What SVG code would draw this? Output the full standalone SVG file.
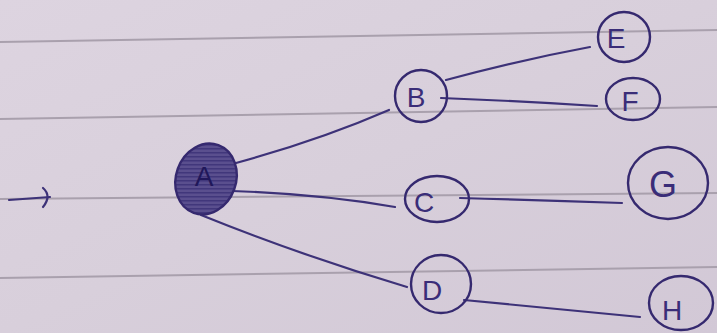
<svg xmlns="http://www.w3.org/2000/svg" width="717" height="333" viewBox="0 0 717 333">
<defs>
<linearGradient id="paper" x1="0" y1="0" x2="1" y2="1">
<stop offset="0" stop-color="#ddd4e0"/>
<stop offset="0.5" stop-color="#d8cfdb"/>
<stop offset="1" stop-color="#d2c8d6"/>
</linearGradient>
<pattern id="hatch" width="4" height="4" patternUnits="userSpaceOnUse" patternTransform="rotate(70)">
<rect width="4" height="4" fill="#5a4f8e"/>
<line x1="0" y1="0" x2="0" y2="4" stroke="#342a72" stroke-width="2"/>
</pattern>
<style>
.rule{stroke:#a9a0ad;stroke-width:2;fill:none}
.edge{stroke:#3d3278;stroke-width:2.2;fill:none;stroke-linecap:round}
.node{stroke:#35296f;stroke-width:2.4;fill:none}
.lbl{font-family:"Liberation Sans",Arial,sans-serif;font-size:28px;fill:#3a2d78;text-anchor:middle;dominant-baseline:central}
</style>
</defs>
<rect width="717" height="333" fill="url(#paper)"/>
<g id="rules">
<path class="rule" d="M0 42 L717 30"/>
<path class="rule" d="M0 119 L717 107"/>
<path class="rule" d="M0 199 L717 193"/>
<path class="rule" d="M0 278 L717 267"/>
</g>
<g id="connectors">
<path class="edge" d="M9 200 L50 197"/>
<path class="edge" d="M43 188 Q52 196 43 207"/>
<path class="edge" d="M236 163 Q320 140 389 110"/>
<path class="edge" d="M232 191 Q320 194 395 207"/>
<path class="edge" d="M201 215 Q300 255 407 287"/>
<path class="edge" d="M446 80 Q520 60 590 47"/>
<path class="edge" d="M441 98 Q520 101 597 106"/>
<path class="edge" d="M460 198 Q540 200 622 203"/>
<path class="edge" d="M464 300 Q550 308 640 317"/>
</g>
<g id="A">
<ellipse cx="206" cy="179" rx="30" ry="36" transform="rotate(20 206 179)" fill="url(#hatch)" stroke="#35296f" stroke-width="2.4"/>
<text class="lbl" x="204" y="176" style="fill:#20175a">A</text>
</g>
<g id="B">
<circle class="node" cx="421" cy="96" r="26"/>
<text class="lbl" x="416" y="97">B</text>
</g>
<g id="C">
<ellipse class="node" cx="437" cy="199" rx="32" ry="23"/>
<text class="lbl" x="424" y="202">C</text>
</g>
<g id="D">
<ellipse class="node" cx="441" cy="284" rx="30" ry="29"/>
<text class="lbl" x="432" y="290">D</text>
</g>
<g id="E">
<ellipse class="node" cx="624" cy="37" rx="26" ry="25"/>
<text class="lbl" x="616" y="38">E</text>
</g>
<g id="F">
<ellipse class="node" cx="633" cy="99" rx="27" ry="21"/>
<text class="lbl" x="630" y="101">F</text>
</g>
<g id="G">
<ellipse class="node" cx="668" cy="183" rx="40" ry="36"/>
<text class="lbl" x="663" y="184" style="font-size:36px">G</text>
</g>
<g id="H">
<ellipse class="node" cx="681" cy="303" rx="32" ry="27"/>
<text class="lbl" x="672" y="310">H</text>
</g>
</svg>
